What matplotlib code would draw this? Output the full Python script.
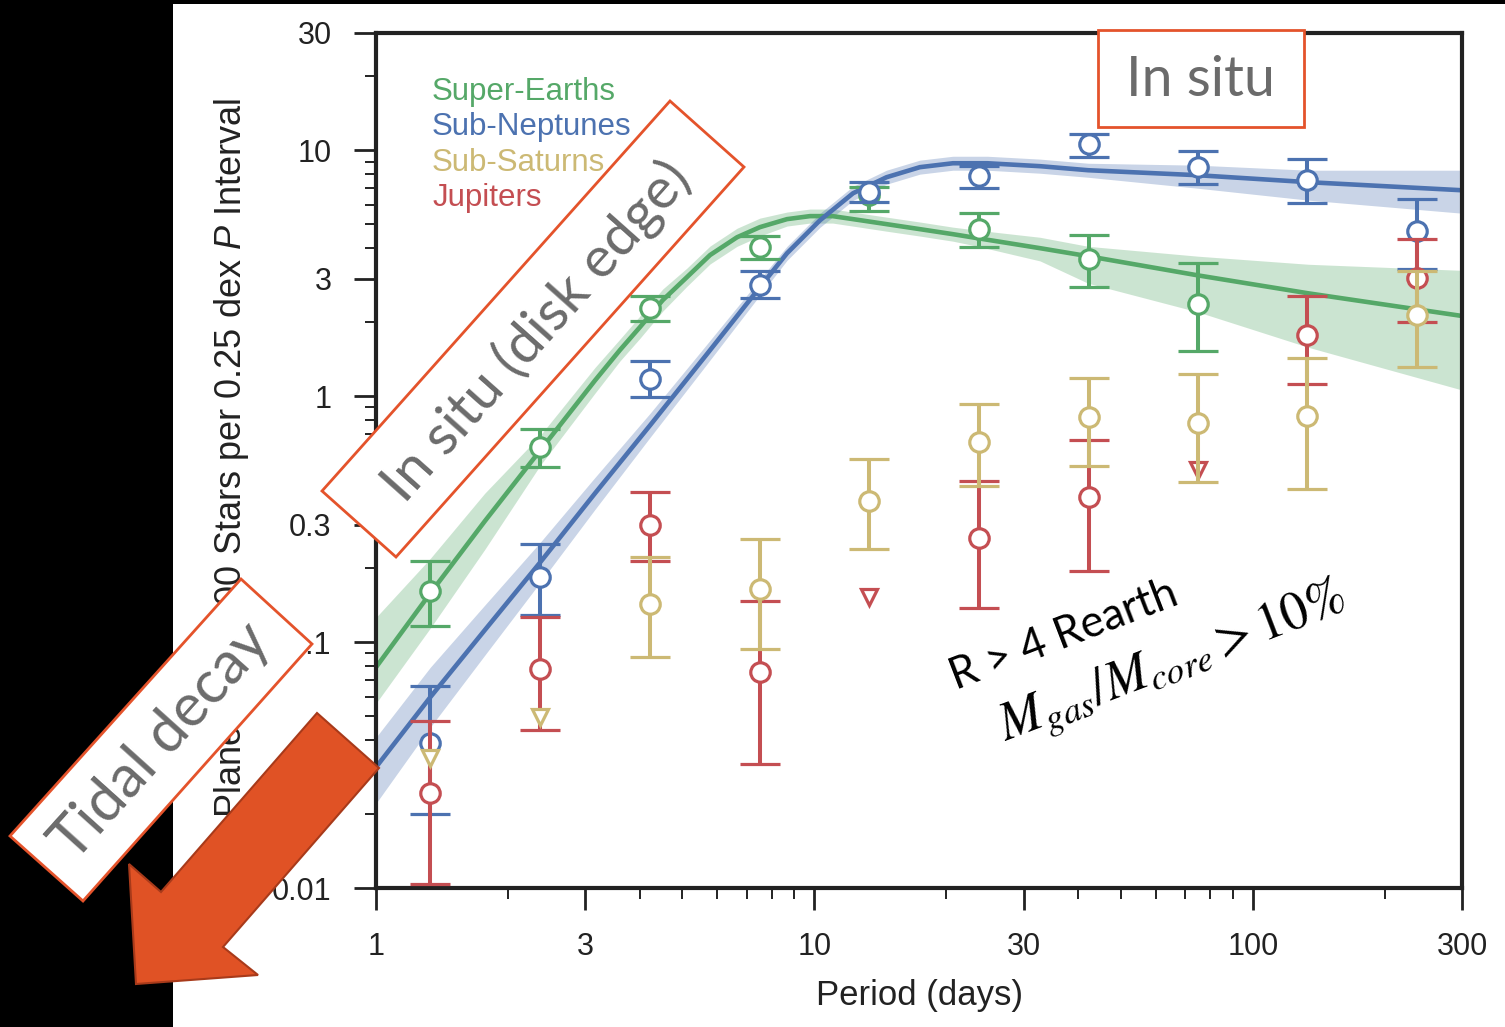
import numpy as np
import matplotlib
matplotlib.use('Agg')
import matplotlib.pyplot as plt
from matplotlib.patches import Polygon, Rectangle
from matplotlib.ticker import FixedLocator, FixedFormatter, LogLocator, NullFormatter

plt.rcParams['font.family'] = ['Liberation Sans', 'DejaVu Sans']
plt.rcParams['mathtext.fontset'] = 'custom'
plt.rcParams['mathtext.rm'] = 'Liberation Sans'
plt.rcParams['mathtext.it'] = 'Liberation Sans:italic'

# period bin centres (days), 0.25 dex wide
period = [1.33, 2.37, 4.22, 7.50, 13.3, 23.7, 42.2, 75.0, 133, 237]

# occurrence per 100 stars: value, lower and upper end of the error bar
se_val = [0.161, 0.62, 2.28, 4.04, 6.6, 4.78, 3.61, 2.37, np.nan, np.nan]
se_lo = [0.116, 0.514, 2.03, 3.61, 5.65, 4.04, 2.77, 1.52, np.nan, np.nan]
se_hi = [0.213, 0.734, 2.55, 4.48, 7.1, 5.55, 4.51, 3.47, np.nan, np.nan]

sn_val = [0.039, 0.184, 1.18, 2.83, 6.76, 7.85, 10.6, 8.53, 7.56, 4.69]
sn_lo = [0.020, 0.129, 0.99, 2.50, 6.15, 7.01, 9.38, 7.28, 6.09, 3.28]
sn_hi = [0.066, 0.25, 1.39, 3.22, 7.42, 8.62, 11.7, 9.9, 9.2, 6.33]

ss_val = [np.nan, np.nan, 0.143, 0.164, 0.374, 0.65, 0.822, 0.776, 0.83, 2.13]
ss_lo = [np.nan, np.nan, 0.087, 0.094, 0.239, 0.431, 0.519, 0.447, 0.419, 1.31]
ss_hi = [np.nan, np.nan, 0.221, 0.262, 0.554, 0.927, 1.19, 1.23, 1.43, 3.22]

ju_val = [0.0243, 0.078, 0.30, 0.0755, np.nan, 0.265, 0.388, np.nan, 1.77, 3.02]
ju_lo = [0.0104, 0.044, 0.213, 0.032, np.nan, 0.137, 0.194, np.nan, 1.12, 2.0]
ju_hi = [0.0477, 0.126, 0.407, 0.147, np.nan, 0.451, 0.662, np.nan, 2.55, 4.35]

# upper limits
ss_lim_p = [1.33, 2.37]
ss_lim_v = [0.0337, 0.0495]
ju_lim_p = [13.3, 75.0]
ju_lim_v = [0.152, 0.50]

# fitted occurrence models and their 1-sigma bands
se_fit_p = [1.0, 1.33, 1.77, 2.37, 3.16, 3.60, 4.0, 4.51, 5.12, 5.78, 6.66, 7.51, 8.66, 9.77,
            11.0, 12.7, 14.6, 17.4, 20.7, 23.6, 32.7, 42.1, 75.0, 134, 300]
se_fit = [0.079, 0.158, 0.310, 0.603, 1.16, 1.54, 1.91, 2.46, 3.05, 3.75, 4.43, 4.87, 5.25, 5.40,
          5.40, 5.20, 5.01, 4.78, 4.56, 4.39, 4.00, 3.71, 3.10, 2.62, 2.12]
se_fit_lo = [0.0564, 0.114, 0.238, 0.524, 1.03, 1.39, 1.72, 2.22, 2.80, 3.45, 4.07, 4.48, 4.92, 5.06,
             5.06, 4.87, 4.69, 4.48, 4.27, 4.07, 3.55, 2.88, 2.20, 1.58, 1.06]
se_fit_hi = [0.126, 0.219, 0.403, 0.694, 1.31, 1.706, 2.12, 2.73, 3.32, 4.08, 4.82, 5.30, 5.61, 5.77,
             5.77, 5.55, 5.35, 5.11, 4.87, 4.73, 4.43, 4.07, 3.71, 3.44, 3.25]

sn_fit_p = [1.0, 1.33, 1.77, 2.37, 3.16, 4.22, 5.66, 7.51, 8.66, 10.3, 12.25, 14.6, 17.4, 20.7,
            24.8, 32.7, 42.1, 75.0, 134, 300]
sn_fit = [0.031, 0.0597, 0.1118, 0.2113, 0.4031, 0.762, 1.468, 2.776, 3.815, 5.196, 6.69, 7.77,
          8.54, 8.86, 8.86, 8.62, 8.30, 7.92, 7.42, 6.88]
sn_fit_lo = [0.0221, 0.0451, 0.0884, 0.1752, 0.347, 0.681, 1.337, 2.575, 3.57, 4.865, 6.26, 7.28,
             8.0, 8.30, 8.30, 8.07, 7.77, 7.01, 6.27, 5.55]
sn_fit_hi = [0.041, 0.079, 0.1413, 0.2548, 0.468, 0.853, 1.612, 2.99, 4.07, 5.55, 7.14, 8.30,
             9.12, 9.46, 9.46, 9.21, 8.86, 8.70, 8.30, 8.30]

names = ['Super-Earths', 'Sub-Neptunes', 'Sub-Saturns', 'Jupiters']
green, blue, khaki, red = '#55A868', '#4C72B0', '#CCB974', '#C44E52'
orange = '#E4532B'
grey = '#6b6b6b'
ink = '#222222'

W, H = 1505, 1027
fig = plt.figure(figsize=(W / 100, H / 100), dpi=100)
fig.patch.set_facecolor('black')
fig.add_artist(Rectangle((173 / W, 0), 1 - 173 / W, 1 - 4 / H, transform=fig.transFigure,
                         fc='white', ec='none', zorder=-5))

ax = fig.add_axes([376 / W, 1 - 888 / H, (1462 - 376) / W, (888 - 33) / H])
ax.set_xscale('log')
ax.set_yscale('log')
ax.set_xlim(1, 300)
ax.set_ylim(0.01, 30)

ax.fill_between(se_fit_p, se_fit_lo, se_fit_hi, color=green, alpha=0.3, lw=0, zorder=1)
ax.fill_between(sn_fit_p, sn_fit_lo, sn_fit_hi, color=blue, alpha=0.3, lw=0, zorder=1)
ax.plot(se_fit_p, se_fit, color=green, lw=3.3, zorder=2, solid_joinstyle='round')
ax.plot(sn_fit_p, sn_fit, color=blue, lw=3.3, zorder=2, solid_joinstyle='round')


def draw_points(val, lo, hi, color, z):
    p = np.array(period)
    v, l, h = np.array(val), np.array(lo), np.array(hi)
    ok = np.isfinite(v)
    ax.errorbar(p[ok], v[ok], yerr=[v[ok] - l[ok], h[ok] - v[ok]], fmt='o', color=color,
                mfc='white', mec=color, ms=14, mew=2.3, elinewidth=2.9,
                capsize=14.5, capthick=2.7, zorder=z)


draw_points(se_val, se_lo, se_hi, green, 3)
draw_points(sn_val, sn_lo, sn_hi, blue, 4)
draw_points(ju_val, ju_lo, ju_hi, red, 5)
ax.plot(ju_lim_p, ju_lim_v, 'v', ls='none', mfc='white', mec=red, ms=11, mew=2.3, zorder=5)
draw_points(ss_val, ss_lo, ss_hi, khaki, 6)
ax.plot(ss_lim_p, ss_lim_v, 'v', ls='none', mfc='white', mec=khaki, ms=11, mew=2.3, zorder=6)

# ticks
ax.xaxis.set_major_locator(FixedLocator([1, 3, 10, 30, 100, 300]))
ax.xaxis.set_major_formatter(FixedFormatter(['1', '3', '10', '30', '100', '300']))
ax.xaxis.set_minor_locator(LogLocator(base=10, subs=(2, 4, 5, 6, 7, 8, 9), numticks=20))
ax.xaxis.set_minor_formatter(NullFormatter())
ax.yaxis.set_major_locator(FixedLocator([0.01, 0.03, 0.1, 0.3, 1, 3, 10, 30]))
ax.yaxis.set_major_formatter(FixedFormatter(['0.01', '0.03', '0.1', '0.3', '1', '3', '10', '30']))
ax.yaxis.set_minor_locator(LogLocator(base=10, subs=(2, 4, 5, 6, 7, 8, 9), numticks=20))
ax.yaxis.set_minor_formatter(NullFormatter())
ax.tick_params(which='major', direction='out', length=16, width=2, color=ink,
               labelsize=22, pad=16, labelcolor=ink)
ax.tick_params(which='minor', direction='out', length=8, width=1.4, color=ink)
for s in ax.spines.values():
    s.set_linewidth(3)
    s.set_color(ink)

fig.text(919 / W, 1 - 995 / H, 'Period (days)', ha='center', va='center', fontsize=25, color=ink)
fig.text(232 / W, 1 - 458 / H, 'Planets per 100 Stars per 0.25 dex $\\mathit{P}$ Interval',
         ha='center', va='center', rotation=90, fontsize=26, color=ink)

# colour-coded legend
for i, (name, col) in enumerate(zip(names, [green, blue, khaki, red])):
    ax.text(0.0516, 0.931 - i * 0.0415, name, transform=ax.transAxes, color=col,
            fontsize=22.5, ha='left', va='center')


def fxy(pts):
    return [(x / W, 1 - y / H) for x, y in pts]


# annotation boxes and arrow on top of everything
box1 = Polygon(fxy([(322, 491), (670, 101), (744, 167), (396, 557)]), closed=True,
               transform=fig.transFigure, fc='white', ec=orange, lw=2, zorder=10)
fig.add_artist(box1)
fig.text(537 / W, 1 - 332 / H, 'In situ (disk edge)', rotation=48.3, rotation_mode='anchor',
         ha='center', va='center', fontsize=41, color=grey, family='Lato', zorder=11)

box2 = Polygon(fxy([(10, 836), (241, 579), (312, 644), (83, 901)]), closed=True,
               transform=fig.transFigure, fc='white', ec=orange, lw=2, zorder=10)
fig.add_artist(box2)
fig.text(161 / W, 1 - 742 / H, 'Tidal decay', rotation=48, rotation_mode='anchor',
         ha='center', va='center', fontsize=43, color=grey, family='Lato', zorder=11)

arrow = Polygon(fxy([(317, 713), (379, 768), (223, 947), (258, 975), (136, 984),
                     (129, 864), (161, 892)]), closed=True, transform=fig.transFigure,
                fc='#E05225', ec='#A83A1A', lw=1.5, zorder=12)
fig.add_artist(arrow)

box3 = Rectangle((1098 / W, 1 - 127 / H), (1304 - 1098) / W, (127 - 30) / H,
                 transform=fig.transFigure, fc='white', ec=orange, lw=2, zorder=10)
fig.add_artist(box3)
fig.text(1200 / W, 1 - 80 / H, 'In situ', ha='center', va='center', fontsize=40,
         color=grey, family='Lato', zorder=11)

fig.text(1064 / W, 1 - 635 / H, 'R > 4 Rearth', rotation=21, rotation_mode='anchor',
         ha='center', va='center', fontsize=31.5, color='black', family='Lato', zorder=11)
fig.text(1172 / W, 1 - 664 / H, '$M_{gas}/M_{core} > 10\\%$', rotation=21, rotation_mode='anchor',
         ha='center', va='center', fontsize=38, color='black', math_fontfamily='stix', zorder=11)

fig.savefig('out.png', dpi=100, facecolor=fig.get_facecolor())
